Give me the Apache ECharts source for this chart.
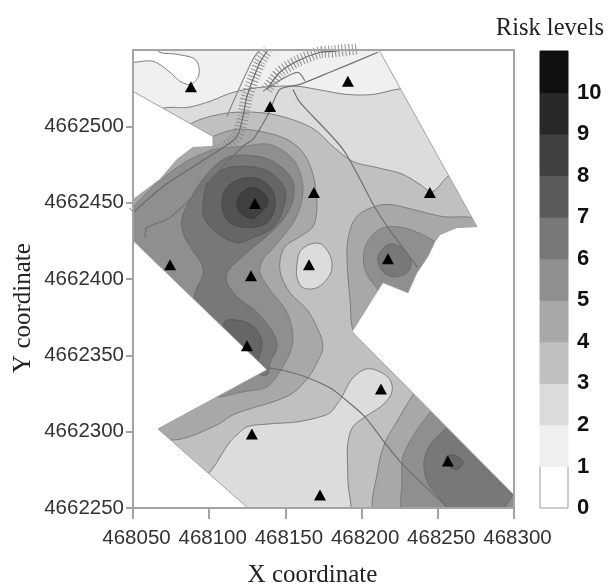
<!DOCTYPE html>
<html><head><meta charset="utf-8">
<style>html,body{margin:0;padding:0;background:#fff}#c{width:612px;height:585px;filter:blur(0.5px)}</style>
<script src="https://cdn.jsdelivr.net/npm/echarts@6/dist/echarts.min.js"></script>
</head><body><div id="c"></div>
<script>
// All coordinates are metres, as offsets from these two map origins.
var X0 = 468000, Y0 = 4662000;
var xTicks = [468050,468100,468150,468200,468250,468300];
var yTicks = [4662250,4662300,4662350,4662400,4662450,4662500];
var legendLevels = [0,1,2,3,4,5,6,7,8,9,10];
var legendColors = ['#ffffff','#f0f0f0','#dcdcdc','#c0c0c0','#a8a8a8','#8f8f8f','#787878','#5a5a5a','#404040','#282828','#101010'];

var stations = [[88,526],[140,513],[191,529.5],[168.7,456.6],[244.8,456.6],[130,449.4],[74.3,409.4],[127.4,402.2],[165.5,409.4],[217.3,413.3],[124.8,356.3],[212.7,328],[128,298.5],[256.6,280.8],[172.7,258.5]];

var band1All = [[30,230],[320,230],[320,570],[30,570]];
var band0Patch = [[44.8,553.7],[61.2,553.7],[67.7,548.5],[78.9,547.2],[90.7,543.9],[93.3,538.6],[92.6,532.1],[87.4,527.5],[80.8,529.5],[74.3,535.4],[63.1,542.6],[44.8,542.6]];
var band2Upper = [[61.2,511.1],[74.3,512.4],[85.4,512.4],[98.5,515.7],[115.6,522.2],[133.3,525.5],[157.6,526.2],[170.7,524.2],[190.4,520.9],[207.4,520.9],[223.2,524.2],[238.3,525.5],[310.4,525.5],[310.4,242.1],[44.8,242.1],[44.8,511.1]];
var band3Main = [[80.8,499.3],[94,504.5],[103.8,507.2],[115.6,509.1],[137.9,508.5],[159.6,502.6],[170.7,496.7],[181.2,486.8],[194.3,477],[210.1,473],[227.1,468.5],[238.3,461.9],[246.2,457.3],[256.6,467.1],[271.1,475],[310.4,471.7],[310.4,242.1],[44.8,242.1],[44.8,499.3]];
var band2Lower = [[94,268.4],[100.5,273.6],[113.6,293.3],[118.2,297.9],[124.8,303.1],[139.9,305.1],[157.6,306.4],[172.7,309.7],[179.2,312.3],[184.5,318.9],[187.1,322.8],[194.3,335.3],[203.5,341.2],[212,339.2],[218.6,334],[219.9,326.1],[214,317.6],[202.2,309.7],[194.3,303.1],[191,292.6],[191,268.4],[190.4,242.1],[120.2,242.1]];
var band2Island = [[157.6,409.4],[159.6,418],[165.5,422.5],[172.7,423.2],[177.9,418],[180.5,411.4],[179.2,402.8],[170.7,394.3],[161.5,394.3],[157.6,400.9]];
var band4Main = [[102.5,493.4],[118.2,498],[133.3,496.7],[151,491.4],[161.5,482.9],[168.1,468.5],[170.7,449.2],[170.7,445.5],[168.1,434.3],[159.6,427.8],[149.7,421.2],[146.4,411.4],[147.1,402.8],[153,391],[164.1,379.9],[171.4,366.8],[174.6,355.6],[169.4,342.5],[164.8,335.3],[155,325.4],[141.8,319.5],[128.7,315.6],[115.6,311],[105.1,304.5],[76.2,294.6],[61.2,301.2],[44.8,320.8],[44.8,458.6],[78.9,481.6]];
var band4Right = [[195.6,365.5],[192.4,386.5],[191,425.8],[196.9,440.9],[208.8,447.5],[218.6,448.8],[233.7,445.5],[253.4,440.9],[272.4,440.2],[284.2,435.7],[257.9,373.3],[208.8,376.6]];
var band4Corner = [[238.3,330.7],[233.7,324.1],[223.8,307.7],[215.3,292.6],[210.7,275],[210.1,242.1],[310.4,242.1],[310.4,281.5]];
var band5Main = [[44.8,437.6],[57.9,455.3],[71,467.1],[87.4,478.3],[103.8,484.9],[122.2,486.8],[139.9,488.1],[155,478.3],[160.9,465.2],[160.9,452],[156.3,438.9],[148.4,427.8],[139.9,418],[135.3,412.7],[133.3,404.8],[139.9,393],[151,378.2],[155,362],[153,351.6],[148.4,342.7],[137.9,329.4],[122.2,326.1],[105.8,322.8],[94,324.1],[44.8,386.5]];
var band5Right = [[210.7,393],[202.2,406.2],[202.2,420.6],[208.8,430.4],[217.3,434.3],[231.7,432.4],[249.4,423.8],[264.5,412.7],[251.4,379.9],[221.9,379.9]];
var band5Corner = [[249.4,317.6],[244.8,312.3],[235,299.2],[227.1,283.5],[226.5,268.4],[229.1,242.1],[310.4,242.1],[310.4,281.5],[264.5,324.1]];
var band6Main = [[90.7,379.9],[90.7,391],[95.9,402.8],[95.3,409.4],[88.7,419.3],[82.8,430.4],[82.1,438.9],[87.4,452],[98.5,468.5],[111.7,479.6],[126.8,480.9],[141.8,477],[154.3,465.2],[155,452],[148.4,438.9],[136.6,427.1],[124.8,417.3],[111.7,404.1],[111.7,397.6],[118.2,388.4],[131.3,378.2],[141.8,364.8],[144.5,355.6],[139.9,345.1],[137.9,337.2],[126.8,340.5]];
var band6Right = [[210.7,414],[217.3,422.5],[225.2,421.2],[232.4,411.4],[229.7,404.1],[220.6,401.5],[214,404.8]];
var band6Corner = [[261.2,307.7],[255.3,301.8],[244.8,291.3],[240.9,279.5],[243.5,266.4],[254.7,252],[258,245.4],[290.8,245.4],[294,250],[298.6,257.2],[307.1,268.4]];
var band7Ring = [[95.9,448.8],[99.2,463.2],[109,471.7],[124.8,473.7],[139.9,469.8],[149.7,458.6],[148.4,445.5],[141.8,433.7],[128.7,427.1],[118.2,423.8],[102.5,432.4],[95.9,442.2]];
var band7Lower = [[110.4,372.2],[120.2,372.7],[130,368.1],[134.6,358.9],[133.3,350.4],[130,343.8],[110.4,360.2]];
var band7Spot = [[259.9,284.8],[266.5,280.2],[262.5,274.9],[256.6,278.2],[254.7,282.8]];
var band8Ring = [[108.4,450.1],[111.7,459.9],[121.5,465.8],[133.3,465.2],[141.8,457.3],[143.2,447.5],[137.9,437],[126.8,433.7],[115.6,435.7],[110.4,440.9]];
var band9Ring = [[118.2,450.1],[121.5,456.6],[128.7,459.9],[136.6,455.3],[138.6,450.1],[132.4,442.2],[128.1,439.6],[120.2,443.7]];

var outsideNorthWest = [[50,522.9],[102.5,493.4],[102.5,486.8],[89.4,486.2],[78.9,478.3],[67.7,465.2],[50,452]];
var outsideWest = [[50,425.2],[137.9,340.5],[66.4,301.8],[125.4,250],[50,250]];
var outsideEast = [[211.4,550],[300,550],[300,258.5],[193.7,365.5],[206.8,386.5],[214,397.6],[230.4,391],[236.3,404.1],[243.5,414.7],[248.1,424.5],[251.4,429.1],[262.5,433.7],[275.7,434.3]];

var roadA = [[57.9,427.1],[59.2,433.7],[74.3,440.2],[102.5,467.1],[123.5,488.1],[128.7,491.4],[138.6,507.8],[146.4,524.2],[159.6,527.5],[179.2,535.4],[210.7,548.5]];
var roadB = [[155,524.2],[159.6,515.7],[187.8,484.9],[208.8,446.8],[217.3,433.7],[237,407.4]];
var roadC = [[137.9,341.8],[149.7,339.9],[164.8,335.3],[179.2,328.7],[187.1,322.8],[202.2,309.7],[215.3,292.6],[227.2,278.2],[256.6,250]];
var roadSpur = [[135.3,522.9],[158.2,535.4],[162.8,529.8]];
var trackNorth = [[111.7,506.5],[115.6,515.7],[128.7,543.9],[133.3,550]];
var railWest = [[50,443.5],[69.7,460.6],[89.4,473.6],[113.6,489.1],[118.9,494.7],[122.2,506.5],[124.8,519.6],[133.3,541.9],[138.6,550]];
var railEast = [[137.9,524.2],[146.4,535.4],[157.6,542.6],[172.7,548.5],[181.2,549.1],[196.9,551]];

var c1='#f0f0f0',c0='#ffffff',c2='#dcdcdc',c3='#c0c0c0',c4='#a8a8a8',c5='#8f8f8f',c6='#787878',c7='#666666',c8='#525252',c9='#404040';
var bands = [
 [band1All,c1],[band0Patch,c0],[band2Upper,c2],[band3Main,c3],[band2Lower,c2],[band2Island,c2],
 [band4Main,c4],[band4Right,c4],[band4Corner,c4],[band5Main,c5],[band5Right,c5],[band5Corner,c5],
 [band6Main,c6,'#6a6a6a'],[band6Right,c6,'#6a6a6a'],[band6Corner,c6,'#6a6a6a'],[band7Ring,c7,'#5a5a5a'],[band7Lower,c7,'#5a5a5a'],[band7Spot,c7,'#5a5a5a'],[band8Ring,c8,'#484848'],[band9Ring,c9,'#383838']];
var outside = [[outsideNorthWest,'#fff'],[outsideWest,'#fff'],[outsideEast,'#fff']];

function abs(p){return [X0+p[0],Y0+p[1]];}
// Rounds a closed ring of screen points with a centripetal Catmull-Rom curve (drawing only).
function rounded(pts){
  var n=pts.length,out=[];
  function d(a,b){return Math.max(Math.sqrt(Math.hypot(a[0]-b[0],a[1]-b[1])),1e-3);}
  function lerp(a,b,ta,tb,t){var w=(t-ta)/(tb-ta);return [a[0]+(b[0]-a[0])*w,a[1]+(b[1]-a[1])*w];}
  for(var i=0;i<n;i++){
    var p0=pts[(i+n-1)%n],p1=pts[i],p2=pts[(i+1)%n],p3=pts[(i+2)%n];
    var t0=0,t1=t0+d(p0,p1),t2=t1+d(p1,p2),t3=t2+d(p2,p3);
    for(var k=0;k<8;k++){
      var t=t1+(t2-t1)*k/8;
      var a1=lerp(p0,p1,t0,t1,t),a2=lerp(p1,p2,t1,t2,t),a3=lerp(p2,p3,t2,t3,t);
      var b1=lerp(a1,a2,t0,t2,t),b2=lerp(a2,a3,t1,t3,t);
      out.push(lerp(b1,b2,t1,t2,t));
    }
  }
  return out;
}
function ringRender(list,round,stroke){
  return function(params,api){
    var item=list[params.dataIndex];
    var pts=item[0].map(function(p){return api.coord(abs(p));});
    return {type:'polygon',shape:{points:round?rounded(pts):pts},style:{fill:item[1],stroke:item[2]||stroke,lineWidth:1}};
  };
}
function polyline(data,color,width,dash){
  return {type:'line',xAxisIndex:0,yAxisIndex:0,data:data.map(abs),symbol:'none',silent:true,z:6,
    lineStyle:{color:color,width:width,type:dash||'solid'},smooth:0.25};
}
var tickFont={fontFamily:'Liberation Sans',fontSize:20.5,color:'#333'};
var gray='#a4a4a4';
var nameFont={fontFamily:'Liberation Serif',fontSize:25,color:'#222'};
var option={
 animation:false,backgroundColor:'#fff',
 title:{text:'Risk levels',right:3,top:11,textStyle:{fontFamily:'Liberation Serif',fontWeight:'normal',fontSize:24.5,color:'#222'}},
 grid:[{left:133,right:98,top:50,bottom:77,outerBoundsMode:'none'},{left:540,width:28,top:51,bottom:77,outerBoundsMode:'none'}],
 xAxis:[
  {gridIndex:0,type:'value',min:468050,max:468300,interval:50,z:10,
   name:'X coordinate',nameLocation:'middle',nameGap:55,nameMoveOverlap:false,nameTextStyle:Object.assign({padding:[0,22,0,0]},nameFont),
   axisLine:{lineStyle:{color:gray,width:2}},axisTick:{length:11,customValues:xTicks,lineStyle:{color:gray,width:2}},
   axisLabel:Object.assign({margin:20,padding:[0,0,0,7],customValues:xTicks,formatter:function(v){return String(v);},hideOverlap:false},tickFont),splitLine:{show:false}},
  {gridIndex:0,type:'value',position:'top',min:468050,max:468300,interval:50,z:10,
   axisLine:{lineStyle:{color:gray,width:2}},axisTick:{show:false},axisLabel:{show:false},splitLine:{show:false}},
  {gridIndex:1,type:'value',min:0,max:1,show:false}
 ],
 yAxis:[
  {gridIndex:0,type:'value',min:4662250,max:4662550,interval:50,z:10,
   name:'Y coordinate',nameLocation:'middle',nameGap:97,nameMoveOverlap:false,nameTextStyle:Object.assign({padding:[0,58,0,0]},nameFont),
   axisLine:{lineStyle:{color:gray,width:2}},axisTick:{length:7,customValues:yTicks,lineStyle:{color:gray,width:2}},
   axisLabel:Object.assign({margin:9,customValues:yTicks,formatter:function(v){return String(v);}},tickFont),splitLine:{show:false}},
  {gridIndex:0,type:'value',position:'right',min:4662250,max:4662550,interval:50,z:10,
   axisLine:{lineStyle:{color:gray,width:2}},axisTick:{show:false},axisLabel:{show:false},splitLine:{show:false}},
  {gridIndex:1,type:'value',min:0,max:11,interval:1,
   axisLine:{show:false},axisTick:{show:false},splitLine:{show:false},position:'right',
   axisLabel:{margin:9,fontFamily:'Liberation Sans',fontWeight:'bold',fontSize:22,color:'#111',customValues:legendLevels,
     formatter:function(v){return String(v);}}}
 ],
 series:[
  {type:'custom',xAxisIndex:0,yAxisIndex:0,clip:true,silent:true,z:2,coordinateSystem:'cartesian2d',
   data:bands.map(function(b,i){return [i];}),renderItem:ringRender(bands,true,'#7c7c7c')},
  polyline(roadA,'#6f6f6f',1.2),polyline(roadB,'#6f6f6f',1.2),polyline(roadC,'#6f6f6f',1.2),polyline(roadSpur,'#7a7a7a',1.2),polyline(trackNorth,'#8a8a8a',1.2),
  {type:'custom',xAxisIndex:0,yAxisIndex:0,clip:true,silent:true,z:5,coordinateSystem:'cartesian2d',
   data:outside.map(function(b,i){return [i];}),renderItem:ringRender(outside,false,'#a2a2a2')},
  polyline(railWest,'#909090',12,[1,2.4]),polyline(railWest,'#6a6a6a',1.2),
  polyline(railEast,'#909090',12,[1,2.4]),polyline(railEast,'#6a6a6a',1.2),
  {type:'scatter',xAxisIndex:0,yAxisIndex:0,data:stations.map(abs),symbol:'triangle',symbolSize:[12,11],silent:true,z:8,itemStyle:{color:'#000',opacity:1}},
  {type:'custom',xAxisIndex:2,yAxisIndex:2,silent:true,z:2,coordinateSystem:'cartesian2d',
   data:legendLevels.map(function(l){return [l];}),
   renderItem:function(params,api){
     var l=api.value(0),a=api.coord([0,l+1]),b=api.coord([1,l]);
     return {type:'rect',shape:{x:a[0],y:a[1],width:b[0]-a[0],height:b[1]-a[1]},style:{fill:legendColors[l],stroke:l<1?'#9a9a9a':legendColors[l],lineWidth:1}};
   }}
 ]
};
var chart=echarts.init(document.getElementById('c'),null,{renderer:'canvas'});
chart.setOption(option);
</script></body></html>
